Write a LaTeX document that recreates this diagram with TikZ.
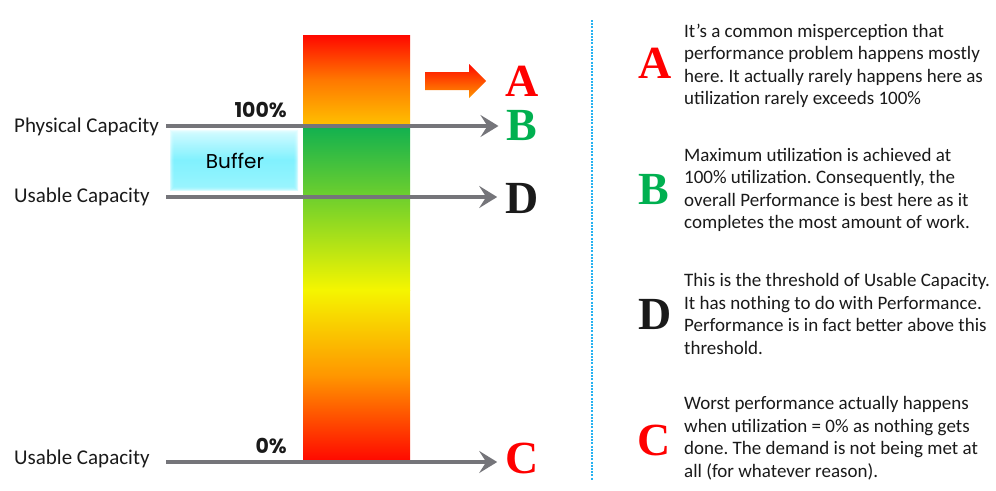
\documentclass[tikz,border=0pt]{standalone}
\usepackage{fontspec}
\setmainfont{Carlito}
\newfontfamily\bigserif{Liberation Serif}
\newfontfamily\geofont{Poppins}
\usetikzlibrary{arrows.meta}
\frenchspacing

\definecolor{capgray}{RGB}{117,117,122}
\definecolor{letred}{RGB}{255,0,0}
\definecolor{letgreen}{RGB}{0,176,80}
\definecolor{letblack}{RGB}{26,26,26}
\definecolor{dotblue}{RGB}{40,178,240}
\definecolor{barred}{RGB}{255,8,0}
\definecolor{barorange}{RGB}{255,120,0}
\definecolor{baramber}{RGB}{255,192,0}
\definecolor{bargreen}{RGB}{16,176,80}
\definecolor{barlime}{RGB}{125,212,40}
\definecolor{baryellow}{RGB}{245,245,0}
\definecolor{barlow}{RGB}{255,150,0}
\definecolor{buftop}{RGB}{200,250,255}
\definecolor{bufmid}{RGB}{112,239,254}
\definecolor{bufbot}{RGB}{140,243,254}

\begin{document}
\begin{tikzpicture}[x=1pt,y=-1pt,
    capline/.style={draw=capgray,line width=4pt,-{Stealth[length=18pt,width=22pt,inset=7pt]}},
    bigletter/.style={font=\bigserif\bfseries\fontsize{46}{46}\selectfont,inner sep=0pt,anchor=base},
    sidelabel/.style={font=\fontsize{21}{24}\selectfont,text=letblack,inner sep=0pt,anchor=base west},
    pct/.style={font=\geofont\bfseries\fontsize{20.5}{20}\selectfont,text=letblack,inner sep=0pt,anchor=base east},
    note/.style={font=\fontsize{19}{22.5}\selectfont,text=letblack,inner sep=0pt,anchor=west,align=left}]
  \useasboundingbox (0,0) rectangle (996,490);

  %% the utilization bar
  \shade[top color=barred,bottom color=baramber,middle color=barorange] (303,35) rectangle (410,125);
  \shade[top color=bargreen,bottom color=baryellow,middle color=barlime] (303,125) rectangle (410,290);
  \shade[top color=baryellow,bottom color=barred,middle color=barlow] (303,290) rectangle (410,461);

  %% buffer between physical and usable capacity (soft edges)
  \foreach \k in {0,...,4}
     \shade[top color=buftop,bottom color=bufbot,middle color=bufmid,opacity=0.35]
        (170+\k,130+\k) rectangle (298-\k,190-\k);
  \node (buffer) at (235,161) {\geofont\fontsize{20}{20}\selectfont Buffer};

  %% orange arrow towards A
  \shade[top color=barred,bottom color=barlow]
     (425,72) -- (469,72) -- (469,64) -- (486,81) -- (469,98) -- (469,90) -- (425,90) -- cycle;

  %% letters next to the bar
  \node[bigletter,text=letred] (A) at (522,96) {A};
  \node[bigletter,text=letgreen] (B) at (522,140) {B};
  \node[bigletter,text=letblack] (D) at (522,213) {D};
  \node[bigletter,text=letred] (C) at (522,473) {C};

  \node[sidelabel] (phys) at (14,132) {Physical Capacity};
  \node[sidelabel] (usab) at (14,202) {Usable Capacity};
  \node[sidelabel] (usablow) at (14,464) {Usable Capacity};
  \node[pct] (full) at (287,117) {100\%};
  \node[pct] (empty) at (287,453) {0\%};

  \coordinate (lineB) at (166,126);
  \coordinate (lineD) at (166,197);
  \coordinate (lineC) at (166,462);
  \foreach \Start/\Letter in {lineB/B, lineD/D, lineC/C}
     \draw[capline,shorten >=8pt] (\Start) -- (\Start -| \Letter.west);

  %% separator
  \draw[dotblue,line width=2pt,dash pattern=on 2pt off 1.2pt] (592,20) -- (592,480);

  %% explanations
  \node[bigletter,text=letred] (An) at (655,78) {A};
  \node[bigletter,text=letgreen] (Bn) at (654,204) {B};
  \node[bigletter,text=letblack] (Dn) at (655,329) {D};
  \node[bigletter,text=letred] (Cn) at (654,455) {C};

  \node[note] (Atext) at (684,66) {It’s a common misperception that\\performance problem happens mostly\\here. It actually rarely happens here as\\utilization rarely exceeds 100\%};
  \node[note] (Btext) at (684,190) {Maximum utilization is achieved at\\100\% utilization. Consequently, the\\overall Performance is best here as it\\completes the most amount of work.};
  \node[note] (Dtext) at (684,314) {This is the threshold of Usable Capacity.\\It has nothing to do with Performance.\\Performance is in fact better above this\\threshold.};
  \node[note] (Ctext) at (684,438) {Worst performance actually happens\\when utilization = 0\% as nothing gets\\done. The demand is not being met at\\all (for whatever reason).};
\end{tikzpicture}
\end{document}
